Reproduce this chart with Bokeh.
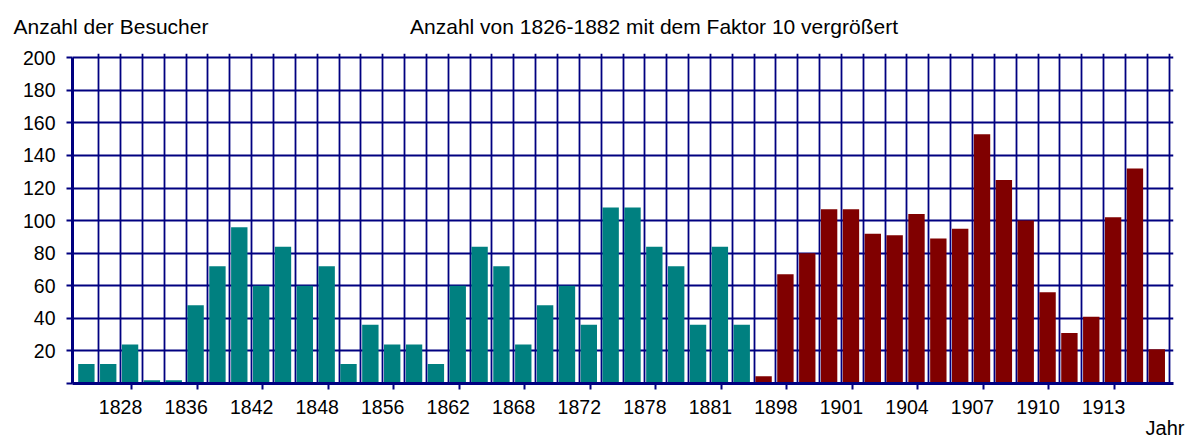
from bokeh.plotting import figure
from bokeh.models import ColumnDataSource, FixedTicker, LinearAxis, Range1d
from bokeh.embed import file_html
from bokeh.resources import INLINE

# ---- data ----
teal_values = [12, 12, 24, 2, 2, 48, 72, 96, 60, 84, 60, 72, 12, 36, 24, 24,
               12, 60, 84, 72, 24, 48, 60, 36, 108, 108, 84, 72, 36, 84, 36]
red_values = [4.5, 67, 80, 107, 107, 92, 91, 104, 89, 95, 153, 125, 100, 56, 31,
              41, 102, 132, 21]
tick_labels = ["1828", "1836", "1842", "1848", "1856", "1862", "1868", "1872",
               "1878", "1881", "1898", "1901", "1904", "1907", "1910", "1913"]
y_ticks = [0, 20, 40, 60, 80, 100, 120, 140, 160, 180, 200]

title_text = "Anzahl von 1826-1882 mit dem Faktor 10 vergrößert"
y_title = "Anzahl der Besucher"
x_title = "Jahr"

# ---- styles ----
TEAL = "#008080"
RED = "#800000"
NAVY = "#000080"
FONT = "Liberation Sans"
TXT = "#000000"

n = len(teal_values) + len(red_values)
tops = teal_values + red_values
colors = [TEAL] * len(teal_values) + [RED] * len(red_values)
xs = [i + 0.435 for i in range(n)]

src = ColumnDataSource(dict(x=xs, top=tops, color=colors))

p = figure(width=1193, height=441,
           x_range=Range1d(-0.2, n + 0.2), y_range=Range1d(0, 202.6),
           output_backend="svg", toolbar_location=None, title=None,
           min_border_left=72, min_border_right=20,
           min_border_top=53, min_border_bottom=56)
p.outline_line_color = None
p.background_fill_color = "white"
p.border_fill_color = "white"

p.vbar(x="x", top="top", width=0.75, bottom=0, fill_color="color",
       line_color=None, source=src)

# grids
p.xgrid.ticker = FixedTicker(ticks=list(range(1, n + 1)))
p.ygrid.ticker = FixedTicker(ticks=y_ticks[1:])
for g in (p.xgrid, p.ygrid):
    g.grid_line_color = NAVY
    g.grid_line_width = 1.8
    g.grid_line_alpha = 1.0

# main x axis
label_pos = [2 + 3 * i for i in range(len(tick_labels))]
xa = p.xaxis[0]
xa.ticker = FixedTicker(ticks=label_pos, minor_ticks=[t + 0.5 for t in label_pos])
xa.major_label_overrides = {t: lab for t, lab in zip(label_pos, tick_labels)}
xa.axis_line_color = NAVY
xa.axis_line_width = 3
xa.major_tick_line_color = None
xa.major_tick_in = 0
xa.major_tick_out = 0
xa.minor_tick_line_color = NAVY
xa.minor_tick_line_width = 2
xa.minor_tick_in = 0
xa.minor_tick_out = 6
xa.major_label_standoff = 10
xa.major_label_text_font = FONT
xa.major_label_text_font_size = "19.5px"
xa.major_label_text_color = TXT

# y axis
ya = p.yaxis[0]
ya.ticker = FixedTicker(ticks=y_ticks)
ya.bounds = (0, 200)
ya.major_label_overrides = {0: ""}
ya.axis_line_color = NAVY
ya.axis_line_width = 3
ya.major_tick_line_color = NAVY
ya.major_tick_line_width = 2
ya.major_tick_in = 0
ya.major_tick_out = 6
ya.minor_tick_line_color = None
ya.major_label_standoff = 11
ya.major_label_text_font = FONT
ya.major_label_text_font_size = "19.5px"
ya.major_label_text_color = TXT


def text_axis(ticks, labels, size, standoff):
    ax = LinearAxis(ticker=FixedTicker(ticks=ticks),
                    major_label_overrides=dict(zip(ticks, labels)))
    ax.axis_line_color = None
    ax.major_tick_line_color = None
    ax.minor_tick_line_color = None
    ax.major_tick_in = 0
    ax.major_tick_out = 0
    ax.major_label_standoff = standoff
    ax.major_label_text_font = FONT
    ax.major_label_text_font_size = size
    ax.major_label_text_color = TXT
    return ax


# headline texts (above the frame) and the "Jahr" caption (below)
p.add_layout(text_axis([1.56, 26.42], [y_title, title_text], "21px", 16), "above")
p.add_layout(text_axis([49.81], [x_title], "20px", 0), "below")

open("out.html", "w").write(file_html(p, INLINE))
